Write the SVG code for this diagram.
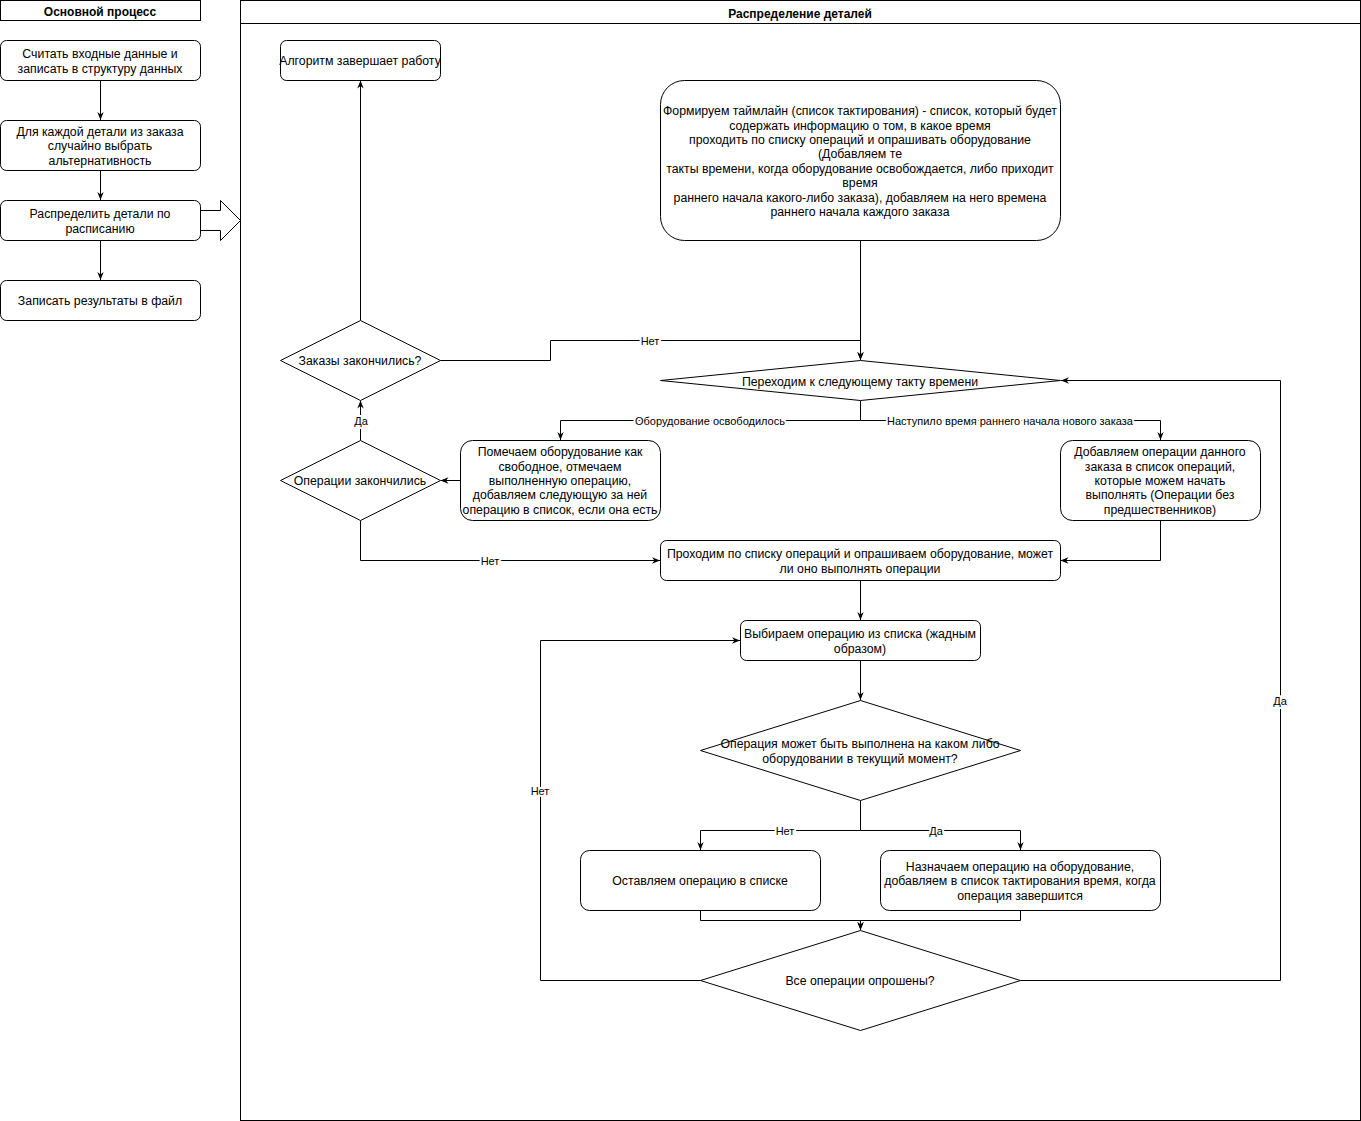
<svg xmlns="http://www.w3.org/2000/svg" width="1361" height="1121" viewBox="0 0 1361 1121">
<style>
.s{fill:#fff;stroke:#000;stroke-width:1}
.t{font-family:"Liberation Sans",Arial,sans-serif;font-size:12.3px;fill:#000;text-anchor:middle;transform:translateY(1px)}
.b{font-weight:bold;font-size:12px}
.l{font-family:"Liberation Sans",Arial,sans-serif;font-size:11px;fill:#000;text-anchor:middle;stroke:#fff;stroke-width:4px;paint-order:stroke;stroke-linejoin:round}
.c{fill:none;stroke:#000;stroke-width:1}
</style>
<defs>
<marker id="a" viewBox="0 0 10 10" refX="10" refY="5" markerWidth="8" markerHeight="8" markerUnits="userSpaceOnUse" orient="auto">
<path d="M0,1 L10,5 L0,9 L3,5 z" fill="#000"/>
</marker>
</defs>
<rect width="1361" height="1121" fill="#fff"/>

<g id="lane-main">
<rect class="s" x="0.5" y="0.5" width="200" height="20"/>
<text class="t b" x="100" y="15">Основной процесс</text>
</g>
<g id="pool-distribution">
<rect class="s" x="240.5" y="0.5" width="1120" height="1120"/>
<line class="c" x1="240.5" y1="23.5" x2="1360.5" y2="23.5"/>
<text class="t b" x="800" y="17">Распределение деталей</text>
</g>

<g id="connectors">
<path class="c" d="M100.5,80.5 V120" marker-end="url(#a)"/>
<path class="c" d="M100.5,170.5 V200" marker-end="url(#a)"/>
<path class="c" d="M100.5,240.5 V280" marker-end="url(#a)"/>
<path class="s" d="M200.5,210.5 H220.5 V200.5 L240.5,220.5 L220.5,240.5 V230.5 H200.5 Z"/>
<path class="c" d="M860.5,240.5 V360" marker-end="url(#a)"/>
<path class="c" d="M440.5,360.5 H550.5 V340.5 H860.5 V360" marker-end="url(#a)"/>
<text class="l" x="650" y="345">Нет</text>
<path class="c" d="M360.5,320.5 V80.5" marker-end="url(#a)"/>
<path class="c" d="M360.5,440.5 V400.5" marker-end="url(#a)"/>
<text class="l" x="361" y="425">Да</text>
<path class="c" d="M460.5,480.5 H440.5" marker-end="url(#a)"/>
<path class="c" d="M360.5,520.5 V560.5 H660" marker-end="url(#a)"/>
<text class="l" x="490" y="565">Нет</text>
<path class="c" d="M860.5,400.5 V420.5 H560.5 V440" marker-end="url(#a)"/>
<text class="l" x="710" y="425">Оборудование освободилось</text>
<path class="c" d="M860.5,420.5 H1160.5 V440" marker-end="url(#a)"/>
<text class="l" x="1010" y="425">Наступило время раннего начала нового заказа</text>
<path class="c" d="M1160.5,520.5 V560.5 H1060.5" marker-end="url(#a)"/>
<path class="c" d="M860.5,580.5 V620" marker-end="url(#a)"/>
<path class="c" d="M860.5,660.5 V700" marker-end="url(#a)"/>
<path class="c" d="M860.5,800.5 V830.5 H700.5 V850" marker-end="url(#a)"/>
<text class="l" x="785" y="835">Нет</text>
<path class="c" d="M860.5,830.5 H1020.5 V850" marker-end="url(#a)"/>
<text class="l" x="936" y="835">Да</text>
<path class="c" d="M700.5,910.5 V920.5 H860.5 V930" marker-end="url(#a)"/>
<path class="c" d="M1020.5,910.5 V920.5 H860.5 V930" marker-end="url(#a)"/>
<path class="c" d="M700.5,980.5 H540.5 V640.5 H740" marker-end="url(#a)"/>
<text class="l" x="540" y="795">Нет</text>
<path class="c" d="M1020.5,980.5 H1280.5 V380.5 H1061" marker-end="url(#a)"/>
<text class="l" x="1280" y="705">Да</text>
</g>

<g id="n1">
<rect class="s" x="0.5" y="40.5" width="200" height="40" rx="6"/>
<text class="t" x="100" y="57">Считать входные данные и</text>
<text class="t" x="100" y="72">записать в структуру данных</text>
</g>
<g id="n2">
<rect class="s" x="0.5" y="120.5" width="200" height="50" rx="6"/>
<text class="t" x="100" y="135">Для каждой детали из заказа</text>
<text class="t" x="100" y="149">случайно выбрать</text>
<text class="t" x="100" y="164">альтернативность</text>
</g>
<g id="n3">
<rect class="s" x="0.5" y="200.5" width="200" height="40" rx="6"/>
<text class="t" x="100" y="217">Распределить детали по</text>
<text class="t" x="100" y="232">расписанию</text>
</g>
<g id="n4">
<rect class="s" x="0.5" y="280.5" width="200" height="40" rx="6"/>
<text class="t" x="100" y="304">Записать результаты в файл</text>
</g>

<g id="end">
<rect class="s" x="280.5" y="40.5" width="160" height="40" rx="6"/>
<text class="t" x="360" y="64">Алгоритм завершает работу</text>
</g>
<g id="timeline">
<rect class="s" x="660.5" y="80.5" width="400" height="160" rx="24"/>
<text class="t" x="860" y="114">Формируем таймлайн (список тактирования) - список, который будет</text>
<text class="t" x="860" y="129">содержать информацию о том, в какое время</text>
<text class="t" x="860" y="143">проходить по списку операций и опрашивать оборудование</text>
<text class="t" x="860" y="157">(Добавляем те</text>
<text class="t" x="860" y="172">такты времени, когда оборудование освобождается, либо приходит</text>
<text class="t" x="860" y="186">время</text>
<text class="t" x="860" y="201">раннего начала какого-либо заказа), добавляем на него времена</text>
<text class="t" x="860" y="215">раннего начала каждого заказа</text>
</g>
<g id="orders-done">
<path class="s" d="M360.5,320.5 L440.5,360.5 L360.5,400.5 L280.5,360.5 Z"/>
<text class="t" x="360" y="364">Заказы закончились?</text>
</g>
<g id="next-tick">
<path class="s" d="M860.5,360.5 L1060.5,380.5 L860.5,400.5 L660.5,380.5 Z"/>
<text class="t" x="860" y="385">Переходим к следующему такту времени</text>
</g>
<g id="mark-free">
<rect class="s" x="460.5" y="440.5" width="200" height="80" rx="12"/>
<text class="t" x="560" y="455">Помечаем оборудование как</text>
<text class="t" x="560" y="470">свободное, отмечаем</text>
<text class="t" x="560" y="484">выполненную операцию,</text>
<text class="t" x="560" y="498">добавляем следующую за ней</text>
<text class="t" x="560" y="513">операцию в список, если она есть</text>
</g>
<g id="ops-done">
<path class="s" d="M360.5,440.5 L440.5,480.5 L360.5,520.5 L280.5,480.5 Z"/>
<text class="t" x="360" y="484">Операции закончились</text>
</g>
<g id="add-ops">
<rect class="s" x="1060.5" y="440.5" width="200" height="80" rx="12"/>
<text class="t" x="1160" y="455">Добавляем операции данного</text>
<text class="t" x="1160" y="470">заказа в список операций,</text>
<text class="t" x="1160" y="484">которые можем начать</text>
<text class="t" x="1160" y="498">выполнять (Операции без</text>
<text class="t" x="1160" y="513">предшественников)</text>
</g>
<g id="iterate">
<rect class="s" x="660.5" y="540.5" width="400" height="40" rx="6"/>
<text class="t" x="860" y="557">Проходим по списку операций и опрашиваем оборудование, может</text>
<text class="t" x="860" y="572">ли оно выполнять операции</text>
</g>
<g id="pick">
<rect class="s" x="740.5" y="620.5" width="240" height="40" rx="6"/>
<text class="t" x="860" y="637">Выбираем операцию из списка (жадным</text>
<text class="t" x="860" y="652">образом)</text>
</g>
<g id="can-run">
<path class="s" d="M860.5,700.5 L1020.5,750.5 L860.5,800.5 L700.5,750.5 Z"/>
<text class="t" x="860" y="747">Операция может быть выполнена на каком либо</text>
<text class="t" x="860" y="762">оборудовании в текущий момент?</text>
</g>
<g id="keep">
<rect class="s" x="580.5" y="850.5" width="240" height="60" rx="9"/>
<text class="t" x="700" y="884">Оставляем операцию в списке</text>
</g>
<g id="assign">
<rect class="s" x="880.5" y="850.5" width="280" height="60" rx="9"/>
<text class="t" x="1020" y="870">Назначаем операцию на оборудование,</text>
<text class="t" x="1020" y="884">добавляем в список тактирования время, когда</text>
<text class="t" x="1020" y="899">операция завершится</text>
</g>
<g id="all-polled">
<path class="s" d="M860.5,930.5 L1020.5,980.5 L860.5,1030.5 L700.5,980.5 Z"/>
<text class="t" x="860" y="984">Все операции опрошены?</text>
</g>
</svg>
